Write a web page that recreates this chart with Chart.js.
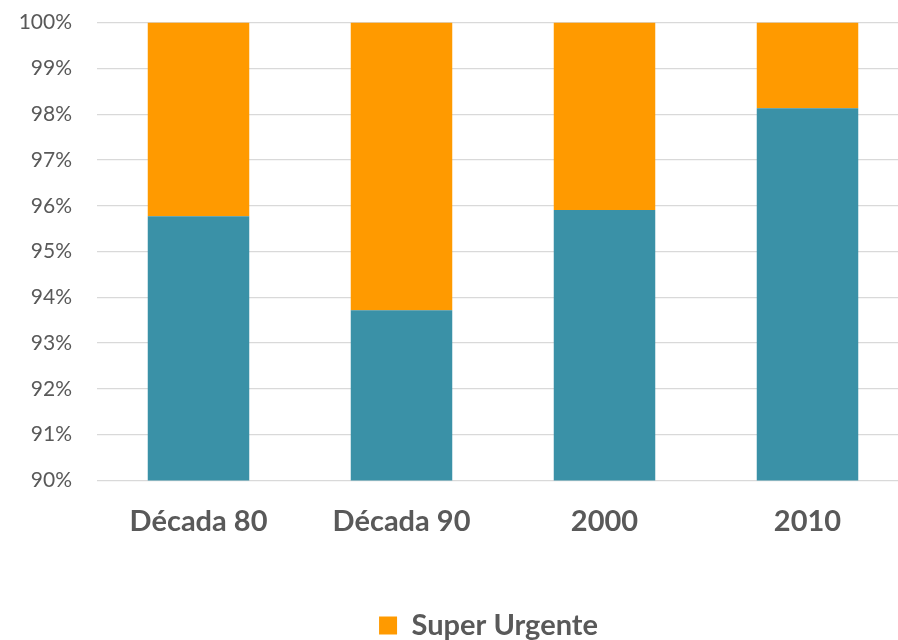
<!DOCTYPE html>
<html>
<head>
<meta charset="utf-8">
<script src="https://cdn.jsdelivr.net/npm/chart.js@4"></script>
<style>
  html, body { margin: 0; padding: 0; background: #fff; overflow: hidden; }
  #wrap { width: 898px; height: 640px; overflow: hidden; }
  #box { width: 912px; height: 640px; position: relative; }
</style>
</head>
<body>
<div id="wrap"><div id="box"><canvas id="chart"></canvas></div></div>
<script>
const categories = ["Década 80", "Década 90", "2000", "2010"];
const urgente = [95.77, 93.72, 95.91, 98.13];
const superUrgente = [4.23, 6.28, 4.09, 1.87];
const yTicks = [90, 91, 92, 93, 94, 95, 96, 97, 98, 99, 100];

const gray = "#595959";

// the legend sits a bit right of centre and lower in the original
const shiftLegend = {
  id: "shiftLegend",
  afterLayout(chart) {
    const lg = chart.legend;
    lg.left += 27;
    lg.right += 27;
    lg.top += 10;
    lg.bottom += 10;
  },
};

(function () {
  const ctx = document.getElementById("chart");
  new Chart(ctx, {
    type: "bar",
    data: {
      labels: categories,
      datasets: [
        {
          label: "Urgente",
          data: urgente,
          backgroundColor: "#3a91a7",
          barPercentage: 0.5,
          categoryPercentage: 1,
        },
        {
          label: "Super Urgente",
          data: superUrgente,
          backgroundColor: "#ff9a00",
          barPercentage: 0.5,
          categoryPercentage: 1,
        },
      ],
    },
    plugins: [shiftLegend],
    options: {
      responsive: true,
      maintainAspectRatio: false,
      animation: false,
      layout: {
        padding: { left: 14, right: 3, top: 0, bottom: 0 },
      },
      plugins: {
        tooltip: { enabled: false },
        legend: {
          position: "bottom",
          labels: {
            filter: (item) => item.text === "Super Urgente",
            boxWidth: 18,
            boxHeight: 18,
            padding: 0,
            color: gray,
            font: { family: "Lato", size: 29, weight: "bold" },
          },
        },
      },
      scales: {
        x: {
          stacked: true,
          grid: { display: false },
          border: { display: false },
          ticks: {
            color: gray,
            padding: 16,
            font: { family: "Lato", size: 29, weight: "bold" },
          },
          afterFit: (scale) => {
            scale.height = 120.5;
          },
        },
        y: {
          stacked: true,
          min: yTicks[0],
          max: yTicks[yTicks.length - 1],
          afterBuildTicks: (scale) => {
            scale.ticks = yTicks.map((v) => ({ value: v }));
          },
          grid: {
            color: "#d9d9d9",
            lineWidth: 1.3,
            drawTicks: true,
            tickLength: 15,
            tickColor: "rgba(0,0,0,0)",
          },
          border: { display: false },
          ticks: {
            color: gray,
            padding: 10,
            font: { family: "Lato", size: 21 },
            callback: (v) => v + "%",
          },
          afterFit: (scale) => {
            scale.width = 83;
          },
        },
      },
    },
  });
})();
</script>
</body>
</html>
